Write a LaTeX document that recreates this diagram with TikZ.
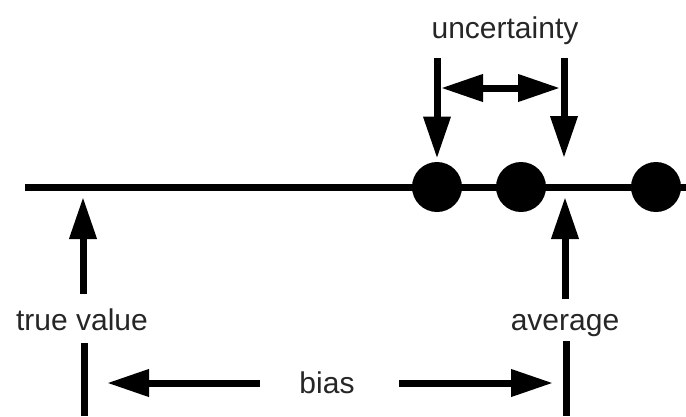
\documentclass[tikz,border=0pt]{standalone}
\usepackage{fontspec}
\setmainfont{Liberation Sans}
\usetikzlibrary{arrows.meta}
\begin{document}
\begin{tikzpicture}[x=1pt,y=-1pt,line width=7pt,
  arr/.style={-{Triangle[length=42pt,width=26pt]}},
  darr/.style={{Triangle[length=42pt,width=26pt]}-{Triangle[length=42pt,width=26pt]}},
  lbl/.style={font=\fontsize{30}{36}\selectfont,text=black!85,inner sep=0pt,anchor=base},
  dot/.style={circle,fill,minimum size=50pt,inner sep=0pt}]
\useasboundingbox (0,0) rectangle (686,416);
% axis
\coordinate (L) at (25,187);
\coordinate (R) at (686,187);
\draw (L) -- (R);
\node[dot] (c1) at (437,187) {};
\node[dot] (c2) at (521,187) {};
\node[dot] (c3) at (656,187) {};
% labels
\node[lbl] (unc) at (505,38) {uncertainty};
\node[lbl] (tv) at (82,330) {true value};
\node[lbl] (avg) at (565,330) {average};
\node[lbl] (bias) at (327,393) {bias};
% uncertainty
\coordinate (u1) at (437,58);
\coordinate (u2) at (564,58);
\coordinate (avtop) at (564,158);
\draw[arr] (u1) -- (c1.north);
\draw[arr] (u2) -- (avtop);
\coordinate (h1) at (441,88);
\coordinate (h2) at (560,88);
\draw[darr] (h1) -- (h2);
% true value / average
\coordinate (tvtip) at (83,197);
\coordinate (avtip) at (565,197);
\draw[arr,shorten <=11pt] (tv.north -| tvtip) -- (tvtip);
\draw[arr,shorten <=11pt] (avg.north -| avtip) -- (avtip);
\coordinate (tvb) at (84,416);
\coordinate (avb) at (566,416);
\draw (84,343) -- (tvb);
\draw (566,341) -- (avb);
% bias
\coordinate (bl) at (107,383);
\coordinate (br) at (553,383);
\draw[arr,shorten <=36pt] (bias.west |- bl) -- (bl);
\draw[arr,shorten <=41pt] (bias.east |- br) -- (br);
\end{tikzpicture}
\end{document}
